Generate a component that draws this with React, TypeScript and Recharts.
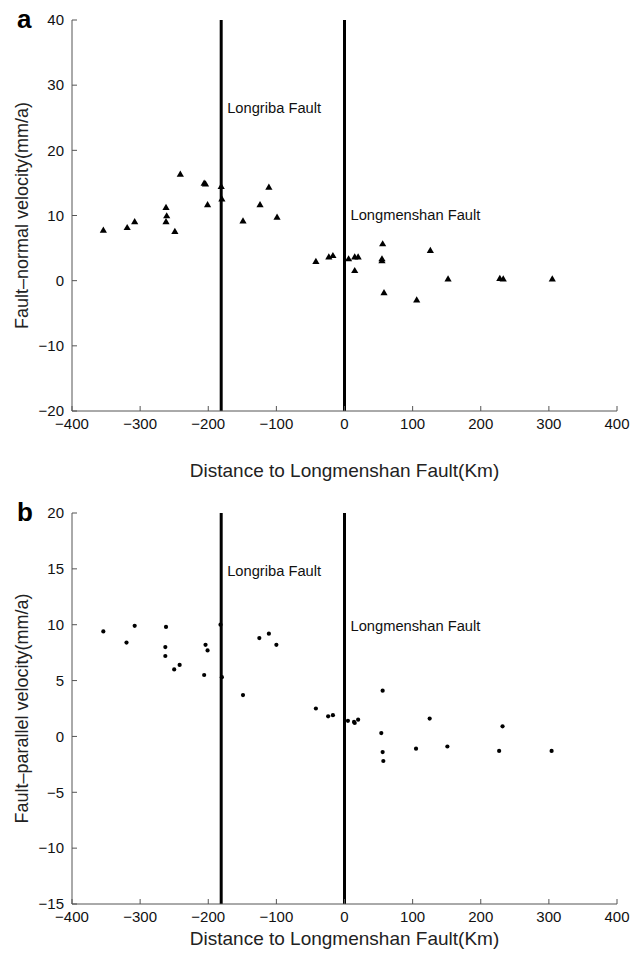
import React from 'react';
import { ScatterChart, Scatter, XAxis, YAxis, ReferenceLine } from 'recharts';

// distance to Longmenshan fault (km), shared tick set
const xTicks = [-400, -300, -200, -100, 0, 100, 200, 300, 400];
const normalTicks = [-20, -10, 0, 10, 20, 30, 40];
const parallelTicks = [-15, -10, -5, 0, 5, 10, 15, 20];

const longribaX = -181;
const longmenshanX = 0;

// panel a: fault-normal velocity
const normalDist = [
  -354, -319, -308, -262, -261, -262, -249, -241, -206, -204, -201, -181, -180, -149, -124, -111, -99,
  -42, -23, -17, 6, 15, 15, 20, 56, 55, 55, 58, 106, 126, 152, 228, 233, 305,
];
const normalVel = [
  7.7, 8.1, 9.0, 11.2, 9.9, 9.0, 7.5, 16.3, 14.9, 14.8, 11.6, 14.4, 12.5, 9.1, 11.6, 14.3, 9.7,
  2.9, 3.6, 3.8, 3.3, 1.5, 3.6, 3.6, 5.6, 3.3, 3.0, -1.9, -3.0, 4.6, 0.2, 0.3, 0.2, 0.2,
];

// panel b: fault-parallel velocity
const parallelDist = [
  -354, -320, -308, -262, -263, -263, -250, -242, -206, -204, -201, -182, -180, -149, -125, -111, -100,
  -42, -24, -17, 5, 14, 15, 20, 56, 54, 56, 57, 105, 125, 151, 227, 232, 304,
];
const parallelVel = [
  9.4, 8.4, 9.9, 9.8, 8.0, 7.2, 6.0, 6.4, 5.5, 8.2, 7.7, 10.0, 5.3, 3.7, 8.8, 9.2, 8.2,
  2.5, 1.8, 1.9, 1.4, 1.3, 1.2, 1.5, 4.1, 0.3, -1.4, -2.2, -1.1, 1.6, -0.9, -1.3, 0.9, -1.3,
];

const normalData = normalDist.map((x, i) => ({ x, y: normalVel[i] }));
const parallelData = parallelDist.map((x, i) => ({ x, y: parallelVel[i] }));

const FONT = '"Liberation Sans", Arial, Helvetica, sans-serif';
const AXIS = '#555';
const minus = (v: number) => String(v).replace('-', '\u2212');
const tickStyle = { fill: '#111', fontSize: 15 };

const Triangle = ({ cx, cy }: any) => (
  <path d={`M${cx},${cy - 4}L${cx + 3.6},${cy + 2.2}L${cx - 3.6},${cy + 2.2}Z`} fill="#000" />
);
const Dot = ({ cx, cy }: any) => <circle cx={cx} cy={cy} r={2.1} fill="#000" />;

const Panel = ({ data, ticks, domain, yLabel, height, xLabelOffset, longribaDy, longmenDy, dot }: any) => (
  <ScatterChart width={644} height={height} margin={{ top: 20, right: 27, bottom: 0, left: 0 }}>
    <XAxis
      type="number"
      dataKey="x"
      domain={[-400, 400]}
      ticks={xTicks}
      interval={0}
      tickFormatter={minus}
      stroke={AXIS}
      tickSize={-5}
      tickMargin={12}
      tick={tickStyle}
      height={height - 20 - 391}
      label={{ value: 'Distance to Longmenshan Fault(Km)', position: 'insideBottom', offset: xLabelOffset, fill: '#222', fontSize: 19 }}
    />
    <YAxis
      type="number"
      dataKey="y"
      domain={domain}
      ticks={ticks}
      interval={0}
      tickFormatter={minus}
      stroke={AXIS}
      tickSize={-5}
      tickMargin={13}
      tick={tickStyle}
      width={72}
      label={{ value: yLabel, angle: -90, position: 'center', dx: -14, fill: '#222', fontSize: 18 }}
    />
    <ReferenceLine
      x={longribaX}
      stroke="#000"
      strokeWidth={3}
      label={{ value: 'Longriba Fault', position: 'insideTopLeft', offset: 6, dy: longribaDy, fill: '#111', fontSize: 14.7 }}
    />
    <ReferenceLine
      x={longmenshanX}
      stroke="#000"
      strokeWidth={3}
      label={{ value: 'Longmenshan Fault', position: 'insideTopLeft', offset: 6, dy: longmenDy, fill: '#111', fontSize: 14.7 }}
    />
    <Scatter data={data} fill="#000" shape={dot ? <Dot /> : <Triangle />} isAnimationActive={false} />
  </ScatterChart>
);

export default function App() {
  return (
    <div style={{ position: 'absolute', top: 0, left: 0, width: 644, height: 956, background: '#fff', fontFamily: FONT }}>
      <div style={{ position: 'absolute', left: 17, top: 4, fontSize: 26, fontWeight: 700 }}>a</div>
      <div style={{ position: 'absolute', left: 17, top: 497, fontSize: 26, fontWeight: 700 }}>b</div>
      <div style={{ position: 'absolute', left: 0, top: 0 }}>
        <Panel
          data={normalData}
          ticks={normalTicks}
          domain={[-20, 40]}
          yLabel="Fault–normal velocity(mm/a)"
          height={490}
          xLabelOffset={13}
          longribaDy={77}
          longmenDy={184}
        />
      </div>
      <div style={{ position: 'absolute', left: 0, top: 493 }}>
        <Panel
          data={parallelData}
          ticks={parallelTicks}
          domain={[-15, 20]}
          yLabel="Fault–parallel velocity(mm/a)"
          height={463}
          xLabelOffset={11}
          longribaDy={47}
          longmenDy={102}
          dot
        />
      </div>
    </div>
  );
}
